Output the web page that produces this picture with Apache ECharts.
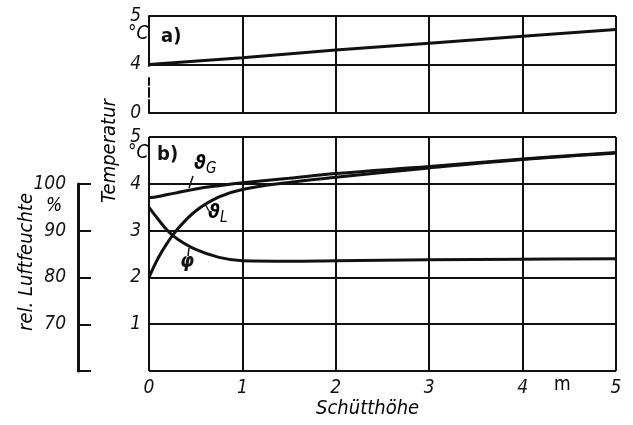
<!DOCTYPE html>
<html>
<head>
<meta charset="utf-8">
<script src="https://cdn.jsdelivr.net/npm/echarts@6/dist/echarts.min.js"></script>
<style>
html, body { margin: 0; padding: 0; background: #fff; }
#chart { width: 633px; height: 425px; }
</style>
</head>
<body>
<div id="chart"></div>
<script>
// a) Temperatur über der Schütthöhe
var hoeheA = [0, 1, 2, 3, 4, 5];
var tempA = [4.0, 4.14, 4.3, 4.44, 4.58, 4.72];

// b) Gut- und Lufttemperatur, rel. Luftfeuchte
var hoeheB = [0, 0.1, 0.2, 0.3, 0.5, 0.75, 1, 1.5, 2, 3, 4, 5];
var thetaG = [3.7, 3.73, 3.77, 3.81, 3.89, 3.96, 4.02, 4.12, 4.22, 4.37, 4.53, 4.67];
var thetaL = [2.0, 2.42, 2.75, 3.02, 3.42, 3.72, 3.88, 4.03, 4.14, 4.34, 4.52, 4.66];
var phi = [95, 92.4, 90, 88.3, 86, 84.3, 83.6, 83.5, 83.6, 83.8, 83.9, 84];

var xTicks = [0, 1, 2, 3, 4, 5];

var FONT = '"Liberation Sans Narrow", "DejaVu Sans Condensed", sans-serif';
var INK = '#111';

function pairs(xs, ys) {
  return xs.map(function (x, i) { return [x, ys[i]]; });
}

var txt = { color: INK, fontFamily: FONT, fontStyle: 'italic', fontSize: 19 };
var gridLine = { show: true, lineStyle: { color: INK, width: 2 } };

var chart = echarts.init(document.getElementById('chart'));
var option = {
  backgroundColor: '#fff',
  animation: false,
  grid: [
    { left: 149, top: 16, width: 467, height: 97 },
    { left: 149, top: 137, width: 467, height: 234 },
    { left: 149, top: 184, width: 467, height: 187 }
  ],
  xAxis: [
    {
      gridIndex: 0, type: 'value', min: xTicks[0], max: xTicks[xTicks.length - 1], interval: 1,
      axisLine: { show: false }, axisTick: { show: false }, axisLabel: { show: false },
      splitLine: { show: true, showMinLine: false, lineStyle: { color: INK, width: 2 } }
    },
    {
      gridIndex: 1, type: 'value', min: 0, max: 5, interval: 1,
      axisLine: { show: false }, axisTick: { show: false },
      axisLabel: Object.assign({ margin: 8 }, txt),
      splitLine: gridLine
    },
    { gridIndex: 2, type: 'value', min: 0, max: 5, show: false }
  ],
  yAxis: [
    {
      gridIndex: 0, type: 'value', min: 3, max: 5, interval: 1,
      axisLine: { show: true, onZero: false, lineStyle: { color: INK, width: 2, type: [13, 3, 9, 3, 7, 12, 80] } },
      axisTick: { show: false },
      axisLabel: Object.assign({ margin: 8, formatter: function (v) { return v === 3 ? '0' : String(v); } }, txt),
      splitLine: gridLine
    },
    {
      gridIndex: 1, type: 'value', min: 0, max: 5, interval: 1,
      axisLine: { show: false }, axisTick: { show: false },
      axisLabel: Object.assign({ margin: 8, formatter: function (v) { return v === 0 ? '' : String(v); } }, txt),
      splitLine: gridLine
    },
    {
      gridIndex: 2, type: 'value', min: 60, max: 100, interval: 10,
      position: 'left', offset: 71,
      axisLine: { show: true, onZero: false, lineStyle: { color: INK, width: 3 } },
      axisTick: { show: true, inside: true, length: 13, lineStyle: { color: INK, width: 2 } },
      axisLabel: Object.assign({ margin: 12, formatter: function (v) { return v === 60 ? '' : String(v); } }, txt),
      splitLine: { show: false }
    }
  ],
  series: [
    {
      name: 'a', type: 'line', xAxisIndex: 0, yAxisIndex: 0, data: pairs(hoeheA, tempA),
      showSymbol: false, lineStyle: { color: INK, width: 3 }
    },
    {
      name: 'thetaG', type: 'line', xAxisIndex: 1, yAxisIndex: 1, data: pairs(hoeheB, thetaG),
      smooth: 0.4, showSymbol: false, lineStyle: { color: INK, width: 3 }
    },
    {
      name: 'thetaL', type: 'line', xAxisIndex: 1, yAxisIndex: 1, data: pairs(hoeheB, thetaL),
      smooth: 0.4, showSymbol: false, lineStyle: { color: INK, width: 3 }
    },
    {
      name: 'phi', type: 'line', xAxisIndex: 2, yAxisIndex: 2, data: pairs(hoeheB, phi),
      smooth: 0.4, showSymbol: false, lineStyle: { color: INK, width: 3 }
    }
  ],
  graphic: [
    { type: 'text', left: 128, top: 25, style: Object.assign({ text: '°C' }, txt) },
    { type: 'text', left: 128, top: 144, style: Object.assign({ text: '°C' }, txt) },
    { type: 'text', left: 161, top: 27, style: { text: 'a)', fill: INK, font: 'bold 20px ' + FONT } },
    { type: 'text', left: 157, top: 145, style: { text: 'b)', fill: INK, font: 'bold 20px ' + FONT } },
    { type: 'text', left: 46, top: 197, style: Object.assign({ text: '%' }, txt) },
    { type: 'text', left: 554, top: 376, style: Object.assign({ text: 'm' }, txt, { fontStyle: 'normal' }) },
    { type: 'text', left: 316, top: 399, style: Object.assign({ text: 'Schütthöhe' }, txt, { fontSize: 20 }) },
    {
      type: 'text', x: 110, y: 151, rotation: Math.PI / 2,
      style: Object.assign({ text: 'Temperatur', align: 'center', verticalAlign: 'middle' }, txt, { fontSize: 20 })
    },
    {
      type: 'text', x: 27, y: 262, rotation: Math.PI / 2,
      style: Object.assign({ text: 'rel. Luftfeuchte', align: 'center', verticalAlign: 'middle' }, txt, { fontSize: 20 })
    },
    // Kurvenbeschriftungen mit Hinweisstrichen
    {
      type: 'text', left: 194, top: 154,
      style: {
        text: '{t|ϑ}{s|G}', rich: {
          t: { fontFamily: FONT, fontWeight: 'bold', fontStyle: 'italic', fontSize: 20, color: INK },
          s: { fontFamily: FONT, fontStyle: 'italic', fontSize: 15, color: INK, padding: [10, 0, 0, 0] }
        }
      }
    },
    { type: 'line', shape: { x1: 189, y1: 188, x2: 193, y2: 176 }, style: { stroke: INK, lineWidth: 1.5 } },
    {
      type: 'text', left: 208, top: 203,
      style: {
        text: '{t|ϑ}{s|L}', rich: {
          t: { fontFamily: FONT, fontWeight: 'bold', fontStyle: 'italic', fontSize: 20, color: INK },
          s: { fontFamily: FONT, fontStyle: 'italic', fontSize: 15, color: INK, padding: [10, 0, 0, 0] }
        }
      }
    },
    { type: 'line', shape: { x1: 205, y1: 204, x2: 209, y2: 211 }, style: { stroke: INK, lineWidth: 1.5 } },
    {
      type: 'text', left: 180, top: 252,
      style: { text: 'φ', fill: INK, font: 'bold italic 20px ' + FONT }
    },
    { type: 'line', shape: { x1: 189, y1: 248, x2: 188, y2: 256 }, style: { stroke: INK, lineWidth: 1.5 } }
  ]
};
chart.setOption(option);
</script>
</body>
</html>
